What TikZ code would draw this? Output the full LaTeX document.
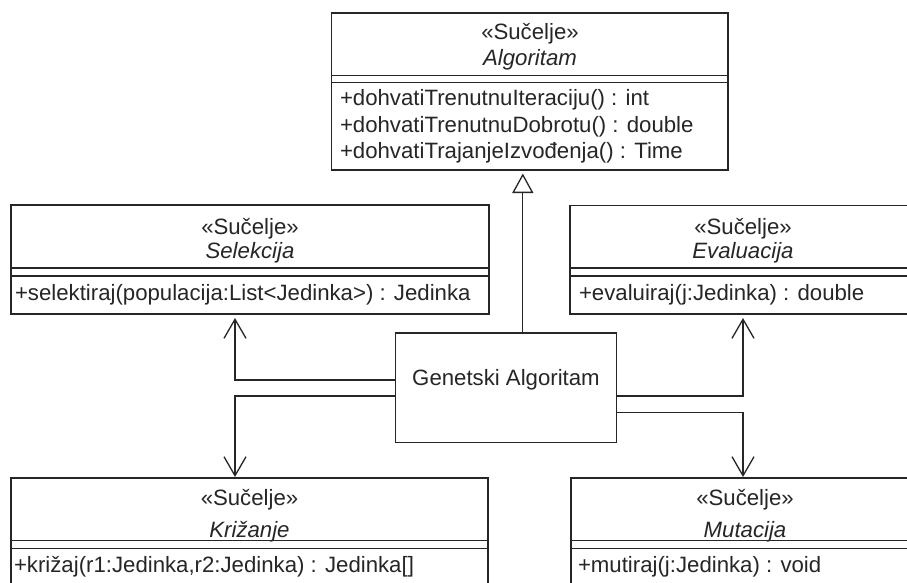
\documentclass[tikz,border=0pt]{standalone}
\usepackage{fontspec}
\setmainfont{Liberation Sans}
\usetikzlibrary{arrows.meta}
\begin{document}
\begin{tikzpicture}[x=1pt,y=-1pt,
  umlbox/.style={draw=black!85,line width=1.4pt,rectangle,inner sep=0pt,outer sep=0pt,anchor=north west},
  sepline/.style={draw=black!85,line width=1.4pt},
  txt/.style={inner sep=0pt,outer sep=0pt,text=black!85,font=\fontsize{22.2}{26.5}\selectfont},
  ttl/.style={txt,font=\fontsize{22.2}{26.5}\selectfont\itshape},
  meth/.style={txt,anchor=west},
  conn/.style={draw=black!85,line width=1.3pt},
  dep/.style={conn,-{Straight Barb[length=19pt,width=22pt,line width=1.3pt]}},
  real/.style={conn,-{Triangle[open,length=19.5pt,width=21pt,line width=1.3pt]}}]
\path[use as bounding box,clip] (0,0) rectangle (907,582);
\fill[white] (0,0) rectangle (907,582);

% Algoritam
\node[umlbox,minimum width=396.3pt,minimum height=157pt] (alg) at (331.7,13) {};
\draw[sepline] (alg.west |- 0,75.5) -- (alg.east |- 0,75.5);
\draw[sepline] (alg.west |- 0,82.5) -- (alg.east |- 0,82.5);
\node[txt] (algS) at (530,34) {«Sučelje»};
\node[ttl] (algT) at (530,60) {Algoritam};
\node[meth] (algM1) at (340,100) {+dohvatiTrenutnuIteraciju() : int};
\node[meth] (algM2) at (340,126.5) {+dohvatiTrenutnuDobrotu() : double};
\node[meth] (algM3) at (340,153) {+dohvatiTrajanjeIzvođenja() : Time};

% Selekcija
\node[umlbox,minimum width=478pt,minimum height=109pt] (sel) at (11,205) {};
\draw[sepline] (sel.west |- 0,268) -- (sel.east |- 0,268);
\draw[sepline] (sel.west |- 0,276) -- (sel.east |- 0,276);
\node[txt] (selS) at (250,229) {«Sučelje»};
\node[ttl] (selT) at (250,253) {Selekcija};
\node[meth] (selM) at (15,295) {+selektiraj(populacija:List<Jedinka>) : Jedinka};

% Evaluacija
\node[umlbox,minimum width=347pt,minimum height=108.5pt] (eva) at (570,205.5) {};
\draw[sepline] (eva.west |- 0,268) -- (eva.east |- 0,268);
\draw[sepline] (eva.west |- 0,276) -- (eva.east |- 0,276);
\node[txt] (evaS) at (743,229) {«Sučelje»};
\node[ttl] (evaT) at (743,253) {Evaluacija};
\node[meth] (evaM) at (579,295) {+evaluiraj(j:Jedinka) : double};

% Krizanje
\node[umlbox,minimum width=477pt,minimum height=140pt] (kri) at (11,478) {};
\draw[sepline] (kri.west |- 0,540.7) -- (kri.east |- 0,540.7);
\draw[sepline] (kri.west |- 0,548.5) -- (kri.east |- 0,548.5);
\node[txt] (kriS) at (249.5,500) {«Sučelje»};
\node[ttl] (kriT) at (249.5,531.7) {Križanje};
\node[meth] (kriM) at (14,567) {+križaj(r1:Jedinka,r2:Jedinka) : Jedinka[]};

% Mutacija
\node[umlbox,minimum width=349pt,minimum height=140pt] (mut) at (571,478) {};
\draw[sepline] (mut.west |- 0,540.7) -- (mut.east |- 0,540.7);
\draw[sepline] (mut.west |- 0,548.5) -- (mut.east |- 0,548.5);
\node[txt] (mutS) at (745,500) {«Sučelje»};
\node[ttl] (mutT) at (745,531.7) {Mutacija};
\node[meth] (mutM) at (578,567) {+mutiraj(j:Jedinka) : void};

% Genetski Algoritam
\node[umlbox,minimum width=221pt,minimum height=109.7pt] (gen) at (395.7,333) {};
\node[txt] (genT) at (506,380) {Genetski Algoritam};

% connector end points
\coordinate (gT) at (522.8,333);
\coordinate (gL1) at (395.7,380);
\coordinate (gL2) at (395.7,396);
\coordinate (gR1) at (616.7,396);
\coordinate (gR2) at (616.7,412.5);
\coordinate (selTip) at (235,318);
\coordinate (kriTip) at (235,477);
\coordinate (evaTip) at (743,318);
\coordinate (mutTip) at (743,477);
\coordinate (algTip) at (522.8,173.5);

% connectors
\draw[real] (gT) -- (algTip);
\draw[dep] (gL1) -| (selTip);
\draw[dep] (gL2) -| (kriTip);
\draw[dep] (gR1) -| (evaTip);
\draw[dep] (gR2) -| (mutTip);
\end{tikzpicture}
\end{document}
